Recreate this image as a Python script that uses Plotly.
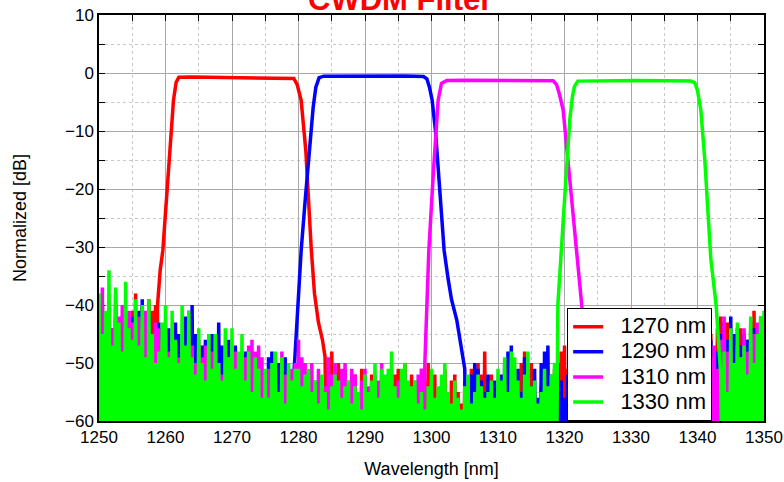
import plotly.graph_objects as go

# ---------------- data ----------------
NOISE_STEP = 0.5      # nm between successive noise maxima
NOISE_FLOOR = -80.0   # the trace drops below the plotted range between noise maxima

# 1270 nm channel
RED_NOISE_L_START = 1250.0
RED_NOISE_L = [-44, -40, -46, -41, -44, -40, -45, -42, -46, -43, -41, -38, -44, -40, -42, -39, -41, -40]
RED_EDGE_X = [1258.8, 1259.2, 1259.6, 1260.1, 1260.7, 1261.2, 1261.6, 1262.0, 1264, 1267, 1270, 1273, 1276,
              1278.5, 1279.3, 1279.8, 1280.4, 1281.1, 1281.5, 1281.9, 1282.4, 1283.0, 1283.6]
RED_EDGE_Y = [-40, -34, -30.6, -23, -13.4, -4.7, -1.6, -0.75, -0.7, -0.75, -0.75, -0.7, -0.8,
              -0.8, -0.95, -2, -4.7, -13.4, -22, -30, -38, -43, -46]
RED_NOISE_R_START = 1284.0
RED_NOISE_R = [-49, -52, -48, -53, -50, -55, -51, -54, -56, -52,
               -55, -51, -53, -56, -52, -57, -54, -55, -58, -53,
               -56, -52, -51, -54, -50, -55, -52, -57, -54, -51,
               -53, -50, -55, -52, -57, -54, -51, -56, -53, -52,
               -55, -57, -53, -55, -51, -54, -50, -52, -48, -53,
               -52, -56, -54, -57, -53, -55, -52, -56, -54, -50,
               -48, -53, -50, -55, -57, -54, -56, -52, -55, -51,
               -53, -48, -47, -51, -50, -53, -55, -52, -56, -54,
               -57, -53, -55, -58, -54, -56, -53, -57, -55, -58,
               -54, -56, -53, -57, -55, -52, -56, -58, -54, -57,
               -55, -53, -57, -54, -56, -52, -55, -57, -53, -50,
               -54, -51, -48, -52, -47, -50, -45, -48, -44, -42,
               -46, -43, -48, -45, -50, -44, -47, -46, -43, -41,
               -44, -42, -47]

# 1290 nm channel
BLUE_NOISE_L_START = 1250.0
BLUE_NOISE_L = [-44, -40, -43, -41, -46, -42, -44, -47, -43, -45,
                -42, -46, -41, -39, -44, -42, -45, -47, -43, -44,
                -46, -44, -47, -43, -45, -48, -42, -41, -40, -45,
                -49, -47, -46, -50, -45, -48, -43, -47, -49, -46,
                -51, -47, -49, -52, -48, -51, -50, -53, -49, -51,
                -52, -49, -48, -51, -50, -53, -49, -51]
BLUE_EDGE_X = [1279.2, 1279.9, 1280.4, 1281.0, 1281.6, 1282.2, 1282.6, 1283.1, 1283.8, 1287, 1290, 1293, 1296,
               1298.8, 1299.3, 1299.7, 1300.1, 1300.6, 1301.0, 1301.5, 1301.9, 1302.5, 1303.0, 1303.8, 1304.3, 1304.6]
BLUE_EDGE_Y = [-54, -39, -30.6, -22, -13.4, -6, -2.5, -0.8, -0.55, -0.5, -0.45, -0.45, -0.5,
               -0.6, -1, -2.5, -4.7, -10, -16.8, -24, -30.6, -35.5, -39, -42.6, -46.1, -48]
BLUE_NOISE_R_START = 1305.0
BLUE_NOISE_R = [-51, -54, -52, -50, -51, -53, -55, -52, -56, -53,
                -55, -52, -50, -48, -47, -53, -51, -55, -49, -52,
                -54, -51, -56, -50, -48, -47, -52, -55, -50, -53,
                -56, -52, -54, -57, -53, -55, -58, -54, -56, -53,
                -57, -55, -53, -56, -58, -54, -57, -55, -53, -56,
                -58, -54, -56, -53, -57, -55, -58, -54, -56, -53,
                -55, -57, -54, -52, -56, -53, -51, -55, -50, -53,
                -49, -52, -47, -50, -46, -49, -48, -45, -43, -46,
                -42, -45, -44, -47, -45, -46, -48, -44, -47, -45,
                -46]

# 1310 nm channel
MAG_NOISE_L_START = 1250.0
MAG_NOISE_L = [-40, -37, -43, -39, -44, -38, -42, -40, -45, -41,
               -43, -46, -42, -44, -41, -45, -47, -43, -44, -46,
               -45, -48, -44, -47, -49, -46, -48, -45, -47, -50,
               -46, -49, -47, -51, -48, -46, -50, -52, -47, -49,
               -51, -48, -50, -52, -49, -47, -46, -48, -47, -49,
               -52, -51, -53, -50, -55, -48, -52, -54, -51, -50,
               -46, -49, -50, -52, -50, -53, -51, -55, -54, -49,
               -52, -50, -54, -51, -50, -53, -51, -52, -55, -53,
               -51, -54, -56, -52, -53, -50, -55, -52, -51, -54,
               -53, -56, -52, -54, -55, -53, -52, -51]
MAG_EDGE_X = [1299.0, 1299.3, 1299.6, 1300.3, 1301.0, 1301.5, 1302.3, 1305, 1308, 1311, 1314, 1317,
              1318.3, 1318.8, 1319.2, 1319.8, 1320.5, 1321.3, 1322.0, 1322.6, 1323.2, 1323.8]
MAG_EDGE_Y = [-50, -39, -30.6, -16.8, -4.7, -1.8, -1.3, -1.25, -1.25, -1.2, -1.25, -1.25,
              -1.35, -2, -3.5, -6.4, -15, -23.7, -32, -40, -48, -54]
MAG_NOISE_R_START = 1324.0
MAG_NOISE_R = [-57, -55, -58, -54, -56, -53, -57, -55, -58, -56,
               -54, -57, -55, -58, -53, -56, -54, -57, -55, -53,
               -56, -58, -54, -57, -55, -53, -56, -54, -58, -55,
               -53, -56, -52, -55, -50, -53, -49, -47, -51, -46,
               -42, -48, -45, -50, -47, -49, -44, -48, -46, -45,
               -43, -47, -44]

# 1330 nm channel
GREEN_NOISE_L_START = 1250.0
GREEN_NOISE_L = [-38, -45, -41, -34, -47, -37, -43, -48, -36, -44,
                 -46, -39, -47, -40, -49, -39, -45, -50, -48, -43,
                 -40, -49, -41, -46, -50, -40, -47, -41, -49, -52,
                 -44, -50, -53, -45, -51, -45, -50, -53, -44, -49,
                 -44, -51, -48, -45, -53, -48, -55, -49, -51, -56,
                 -51, -56, -50, -48, -55, -49, -57, -50, -53, -51,
                 -51, -54, -52, -51, -55, -53, -57, -52, -55, -58,
                 -54, -52, -53, -56, -54, -53, -57, -54, -55, -58,
                 -52, -55, -53, -50, -56, -51, -52, -51, -48, -54,
                 -56, -51, -50, -53, -54, -53, -57, -55, -58, -54,
                 -51, -56, -54, -52, -50, -55, -57, -53, -56, -58,
                 -54, -52, -57, -55, -52, -54, -56, -55, -53, -56,
                 -51, -53, -49, -55, -48, -49, -53, -56, -52, -48,
                 -54, -53, -57, -55, -51, -54, -52, -50]
GREEN_EDGE_X = [1319.0, 1319.5, 1320.0, 1320.4, 1320.8, 1321.2, 1321.5, 1322.0, 1325, 1328, 1331, 1334, 1337,
                1339.0, 1339.6, 1340.0, 1340.5, 1341.1, 1342.0, 1342.8, 1343.2]
GREEN_EDGE_Y = [-40, -32, -22, -15, -8, -4, -2.3, -1.4, -1.3, -1.35, -1.3, -1.3, -1.35,
                -1.4, -1.7, -3, -6.4, -15, -32, -40, -47]
GREEN_NOISE_R_START = 1343.5
GREEN_NOISE_R = [-52, -48, -55, -44, -50, -43, -49, -47, -52, -42, -50, -45, -42, -41]

CHANNELS = [
    ("1270 nm", "#ff0000", RED_NOISE_L_START, RED_NOISE_L, RED_EDGE_X, RED_EDGE_Y, RED_NOISE_R_START, RED_NOISE_R),
    ("1290 nm", "#0000ff", BLUE_NOISE_L_START, BLUE_NOISE_L, BLUE_EDGE_X, BLUE_EDGE_Y, BLUE_NOISE_R_START, BLUE_NOISE_R),
    ("1310 nm", "#ff00ff", MAG_NOISE_L_START, MAG_NOISE_L, MAG_EDGE_X, MAG_EDGE_Y, MAG_NOISE_R_START, MAG_NOISE_R),
    ("1330 nm", "#00ff00", GREEN_NOISE_L_START, GREEN_NOISE_L, GREEN_EDGE_X, GREEN_EDGE_Y, GREEN_NOISE_R_START, GREEN_NOISE_R),
]


def noise_segment(start, peaks):
    xs, ys = [], []
    for i, p in enumerate(peaks):
        x0 = start + i * NOISE_STEP
        xs += [x0, x0 + NOISE_STEP / 2]
        ys += [p, NOISE_FLOOR]
    return xs, ys


FONT = "Liberation Sans, Arial, sans-serif"
fig = go.Figure()
for name, color, ls, lp, ex, ey, rs, rp in CHANNELS:
    x1, y1 = noise_segment(ls, lp)
    x3, y3 = noise_segment(rs, rp)
    fig.add_trace(go.Scatter(x=x1 + list(ex) + x3, y=y1 + list(ey) + y3, mode="lines",
                             name='<span style="font-size:22px">&nbsp;&nbsp;' + name + '</span>',
                             line=dict(color=color, width=3.5)))

axis_common = dict(
    showgrid=True, gridcolor="#a8a8a8", gridwidth=1,
    ticks="inside", ticklen=6, tickcolor="black", tickwidth=1,
    showline=True, linecolor="black", linewidth=1.5, mirror="allticks",
    zeroline=False, layer="below traces", automargin=False,
    tickfont=dict(family=FONT, size=17, color="black"),
    minor=dict(dtick=5, ticks="inside", ticklen=6, tickcolor="black",
               showgrid=True, gridcolor="#c8c8c8", griddash="dot", gridwidth=1),
)

fig.update_xaxes(range=[1250, 1350], tick0=1250, dtick=10,
                 title=dict(text="Wavelength [nm]", font=dict(family=FONT, size=18, color="black"), standoff=16),
                 **axis_common)
fig.update_yaxes(range=[-60, 10], tick0=-60, dtick=10,
                 title=dict(text="Normalized [dB]", font=dict(family=FONT, size=18, color="black"), standoff=34),
                 **axis_common)

fig.add_annotation(text="<b>CWDM Filter</b>", xref="paper", yref="paper", x=0.4526, y=1.0,
                   xanchor="center", yanchor="bottom", yshift=-4, showarrow=False,
                   font=dict(family=FONT, size=31, color="#ff0000"))

fig.update_layout(
    width=784, height=482,
    margin=dict(l=99, r=20, t=15, b=61),
    paper_bgcolor="white", plot_bgcolor="white",
    legend=dict(x=0.704, y=0.278, xanchor="left", yanchor="top",
                bgcolor="white", bordercolor="black", borderwidth=1,
                font=dict(family=FONT, size=17, color="black"), tracegroupgap=0),
    showlegend=True,
)

fig.write_html("out.html")
